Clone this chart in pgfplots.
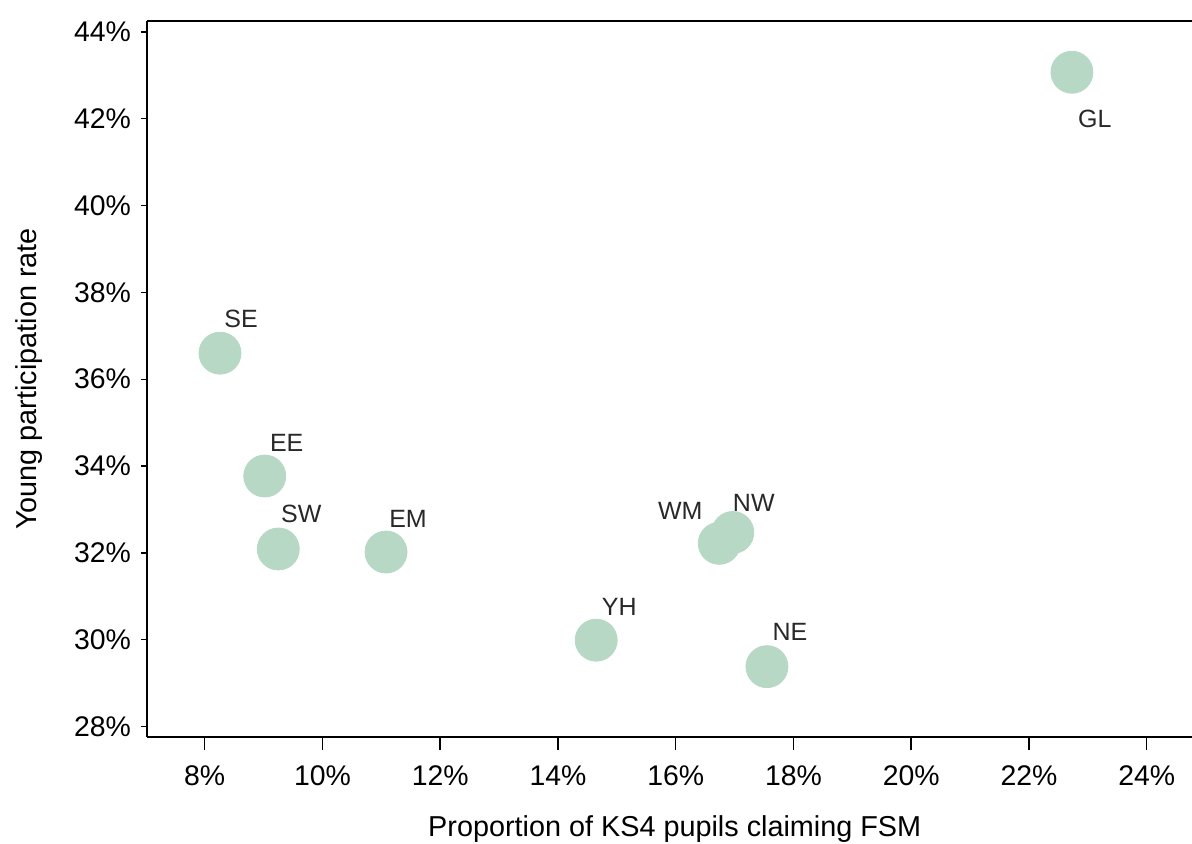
\documentclass[border=0pt]{standalone}
\usepackage{pgfplots}
\pgfplotsset{compat=1.18}
\usepackage{fontspec}
\setmainfont{Liberation Sans}
\definecolor{ptgreen}{RGB}{182,216,196}
\definecolor{lbl}{RGB}{40,40,40}
\begin{document}
\begin{tikzpicture}
\begin{axis}[
  scale only axis,
  width=522.5pt, height=358pt,
  xmin=7.02, xmax=24.77,
  ymin=27.76, ymax=44.25,
  separate axis lines,
  axis x line*=box,
  axis y line*=left,
  axis line style={line width=0.8pt, black},
  tick align=outside,
  major tick length=3pt,
  tick style={line width=0.7pt, black},
  xtick=\empty,
  extra x ticks={8,10,12,14,16,18,20,22,24},
  extra x tick labels={8\%,10\%,12\%,14\%,16\%,18\%,20\%,22\%,24\%},
  extra x tick style={major tick length=6.5pt, tick style={line width=0.7pt, black}},
  ytick={28,30,32,34,36,38,40,42,44},
  yticklabels={28\%,30\%,32\%,34\%,36\%,38\%,40\%,42\%,44\%},
  xtick pos=bottom, ytick pos=left,
  ticklabel style={font=\fontsize{14.2}{16}\selectfont, text=black},
  xticklabel style={yshift=-4.5pt},
  yticklabel style={xshift=-1.5pt},
  xlabel={Proportion of KS4 pupils claiming FSM},
  ylabel={Young participation rate},
  label style={font=\fontsize{14.4}{17}\selectfont, text=black},
  xlabel style={at={(axis description cs:0.505,0)}, anchor=center, yshift=-46pt},
  ylabel style={at={(axis description cs:0,0.5)}, anchor=center, yshift=59pt},
  clip=false,
]
\addplot[ptgreen, only marks, mark=*, mark size=10.5pt,
  mark options={fill=ptgreen, draw=ptgreen},
  nodes near coords, point meta=explicit symbolic,
  visualization depends on={\thisrow{dx}\as\dx},
  visualization depends on={\thisrow{dy}\as\dy},
  every node near coord/.append style={anchor=center, xshift=\dx pt, yshift=\dy pt,
    font=\fontsize{12.5}{14}\selectfont, text=lbl, inner sep=0pt},
] table[x=x, y=y, meta=lab] {
x      y      lab  dx     dy
22.73  43.07  GL   11.5  -23.5
8.26   36.60  SE   10.5   17
9.02   33.77  EE   11     16.5
9.25   32.09  SW   11.5   17.5
11.08  32.02  EM   11     16.5
14.65  29.99  YH   11.5   16.5
16.74  32.22  WM  -19.5   16
16.97  32.47  NW   10.5   15
17.55  29.38  NE   11.5   17.5
};
\end{axis}
\pgfresetboundingbox
\path (-73.5pt,-53.5pt) rectangle (522.5pt,368.5pt);
\end{tikzpicture}
\end{document}
